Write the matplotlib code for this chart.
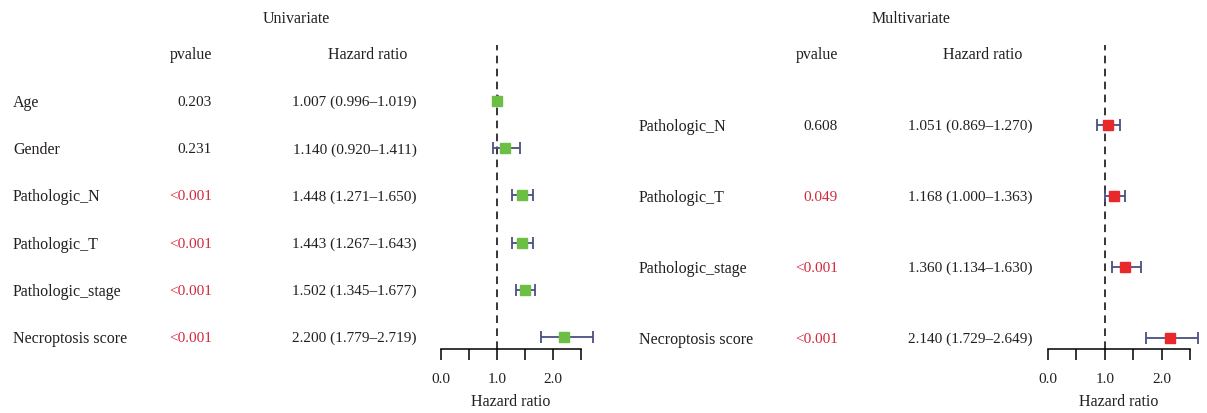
import matplotlib.pyplot as plt
from matplotlib.transforms import blended_transform_factory

plt.rcParams['font.family'] = ['Liberation Serif', 'DejaVu Serif']
plt.rcParams['font.size'] = 11

# univariate
uni_vars = ["Age", "Gender", "Pathologic_N", "Pathologic_T", "Pathologic_stage", "Necroptosis score"]
uni_p = ["0.203", "0.231", "<0.001", "<0.001", "<0.001", "<0.001"]
uni_hr = [1.007, 1.140, 1.448, 1.443, 1.502, 2.200]
uni_lo = [0.996, 0.920, 1.271, 1.267, 1.345, 1.779]
uni_hi = [1.019, 1.411, 1.650, 1.643, 1.677, 2.719]

# multivariate
multi_vars = ["Pathologic_N", "Pathologic_T", "Pathologic_stage", "Necroptosis score"]
multi_p = ["0.608", "0.049", "<0.001", "<0.001"]
multi_hr = [1.051, 1.168, 1.360, 2.140]
multi_lo = [0.869, 1.000, 1.134, 1.729]
multi_hi = [1.270, 1.363, 1.630, 2.649]

W, H = 1207, 413
fig = plt.figure(figsize=(W / 100, H / 100), dpi=100)

txt_col = "#231f20"
red_txt = "#d2283c"
bar_col = "#4a5080"


def panel(title, names, pv, hr, lo, hi, mcol, x0, x1, rows_y, cols):
    # axes placed in pixels: x0..x1 is 0.0..2.5, top 45, bottom 349
    top, bot = 45, 349
    ax = fig.add_axes([x0 / W, 1 - bot / H, (x1 - x0) / W, (bot - top) / H])
    n = len(names)
    step = (rows_y[-1] - rows_y[0]) / (n - 1)
    ax.set_ylim(n - 1 + (bot - rows_y[-1]) / step, -(rows_y[0] - top) / step)
    ax.set_xlim(0, 2.5)
    y = list(range(n))
    ax.errorbar(hr, y, xerr=[[h - l for h, l in zip(hr, lo)], [u - h for h, u in zip(hr, hi)]],
                fmt="none", ecolor=bar_col, elinewidth=1.3, capsize=4, capthick=1.3, clip_on=False, zorder=2)
    ax.plot(hr, y, "s", color=mcol, markersize=7.5, clip_on=False, zorder=3)
    ax.axvline(1.0, color="black", lw=1.1, ls=(0, (5, 3.5)), zorder=1)
    for s in ["top", "right", "left"]:
        ax.spines[s].set_visible(False)
    ax.spines["bottom"].set_linewidth(1.1)
    ax.set_yticks([])
    ax.set_xticks([0, 0.5, 1.0, 1.5, 2.0, 2.5])
    ax.set_xticklabels(["0.0", "", "1.0", "", "2.0", ""])
    ax.tick_params(axis="x", direction="out", length=8, width=1.1, pad=9, labelsize=11, labelcolor=txt_col)
    ax.set_xlabel("Hazard ratio", fontsize=11.5, labelpad=6, color=txt_col)
    ax.patch.set_alpha(0)

    tr = blended_transform_factory(fig.transFigure, ax.transData)
    lab_x, p_x, hr_x = cols
    for i in range(n):
        ax.text(lab_x / W, i, names[i], transform=tr, ha="left", va="center_baseline",
                fontsize=11.5, color=txt_col)
        c = red_txt if pv[i].startswith("<") or float(pv[i]) < 0.05 else txt_col
        ax.text(p_x / W, i, pv[i], transform=tr, ha="right", va="center_baseline", color=c)
        ax.text(hr_x / W, i, "%.3f (%.3f\u2013%.3f)" % (hr[i], lo[i], hi[i]),
                transform=tr, ha="right", va="center_baseline", color=txt_col)
    fig.text(p_x / W, 1 - 53 / H, "pvalue", ha="right", va="center_baseline", fontsize=11.5, color=txt_col)
    fig.text((hr_x - 49) / W, 1 - 53 / H, "Hazard ratio", ha="center", va="center_baseline",
             fontsize=11.5, color=txt_col)
    fig.text((hr_x - 121) / W, 1 - 17 / H, title, ha="center", va="center_baseline",
             fontsize=11.5, color=txt_col)
    return ax


panel("Univariate", uni_vars, uni_p, uni_hr, uni_lo, uni_hi, "#6dbe45",
      441, 581, [101, 149, 196, 242, 290, 337], (13, 212, 417))
panel("Multivariate", multi_vars, multi_p, multi_hr, multi_lo, multi_hi, "#e8282b",
      1048, 1190, [125, 196, 267, 338], (639, 838, 1032))

plt.savefig("out.png", dpi=100)
